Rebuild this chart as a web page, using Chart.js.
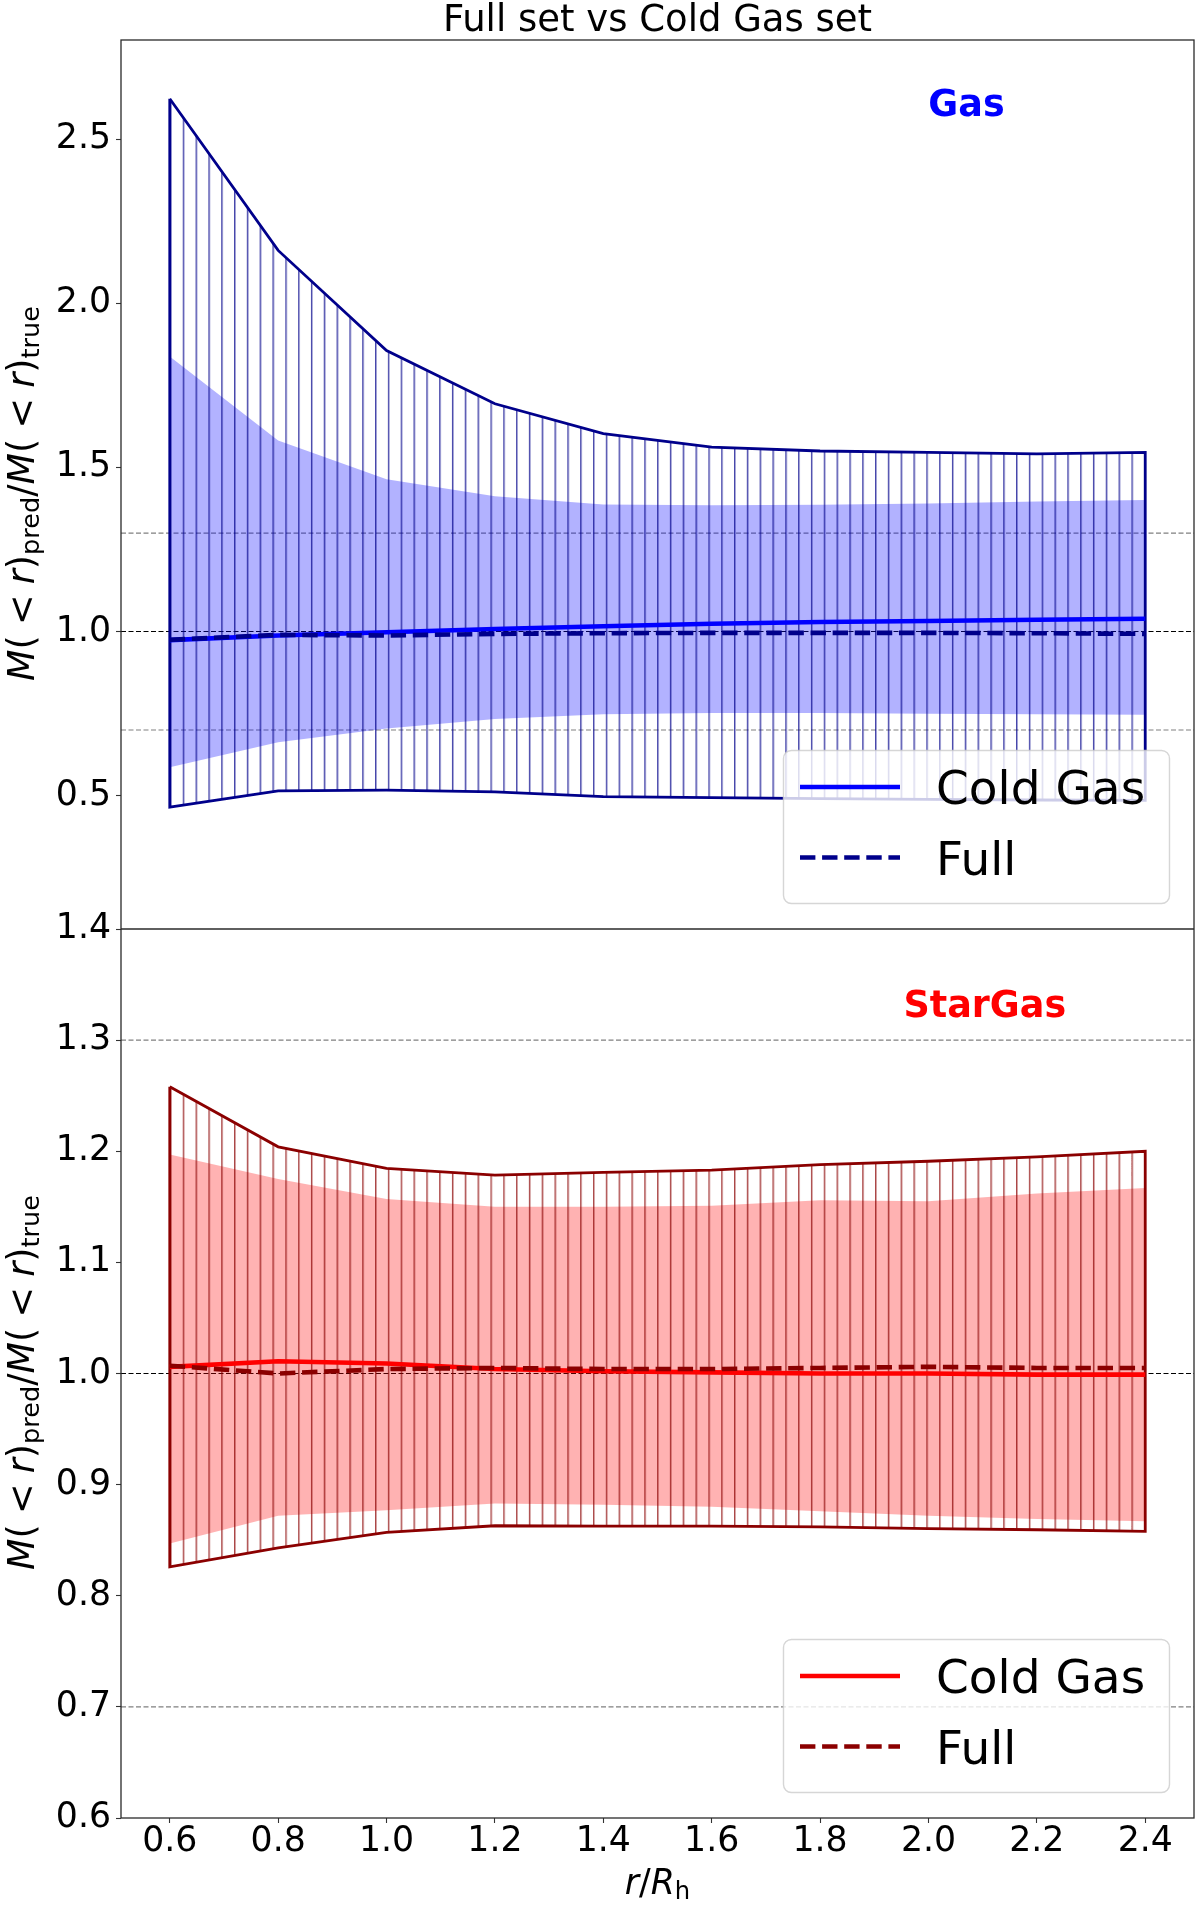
<!DOCTYPE html>
<html>
<head>
<meta charset="utf-8">
<title>Full set vs Cold Gas set</title>
<script src="https://cdn.jsdelivr.net/npm/chart.js@4.4.1/dist/chart.umd.min.js"></script>
<style>
  html, body { margin: 0; padding: 0; background: #fff; }
  #wrap { width: 1200px; height: 1906px; }
</style>
</head>
<body>
<div id="wrap"><canvas id="massChart" width="1200" height="1906"></canvas></div>
<script>
// ---- values ----
const radii = [0.6, 0.8, 1.0, 1.2, 1.4, 1.6, 1.8, 2.0, 2.2, 2.4];
const xTicks = [0.6, 0.8, 1.0, 1.2, 1.4, 1.6, 1.8, 2.0, 2.2, 2.4];
const xRange = [0.51, 2.49];

// Gas panel
const gasFullHi  = [2.623, 2.161, 1.856, 1.694, 1.603, 1.562, 1.550, 1.546, 1.541, 1.546];
const gasFullLo  = [0.465, 0.515, 0.517, 0.512, 0.497, 0.494, 0.491, 0.489, 0.487, 0.486];
const gasColdHi  = [1.838, 1.582, 1.464, 1.412, 1.387, 1.385, 1.386, 1.390, 1.396, 1.401];
const gasColdLo  = [0.587, 0.663, 0.705, 0.734, 0.748, 0.752, 0.752, 0.750, 0.748, 0.747];
const gasColdMed = [0.974, 0.988, 0.998, 1.008, 1.016, 1.024, 1.029, 1.032, 1.036, 1.039];
const gasFullMed = [0.975, 0.990, 0.988, 0.993, 0.995, 0.996, 0.996, 0.996, 0.995, 0.993];
const gasTicks = [0.5, 1.0, 1.5, 2.0, 2.5];
const gasRange = [0.094, 2.802];

// StarGas panel
const starFullHi  = [1.258, 1.204, 1.1845, 1.1785, 1.181, 1.183, 1.188, 1.191, 1.195, 1.200];
const starFullLo  = [0.826, 0.843, 0.857, 0.863, 0.8626, 0.8626, 0.862, 0.8604, 0.8594, 0.858];
const starColdHi  = [1.197, 1.175, 1.157, 1.150, 1.150, 1.151, 1.156, 1.155, 1.162, 1.167];
const starColdLo  = [0.847, 0.872, 0.877, 0.883, 0.882, 0.880, 0.876, 0.872, 0.869, 0.867];
const starColdMed = [1.006, 1.011, 1.009, 1.004, 1.002, 1.001, 1.000, 1.000, 0.999, 0.999];
const starFullMed = [1.007, 1.000, 1.004, 1.005, 1.004, 1.004, 1.005, 1.006, 1.005, 1.005];
const starTicks = [0.6, 0.7, 0.8, 0.9, 1.0, 1.1, 1.2, 1.3, 1.4];
const starRange = [0.6, 1.4];

// horizontal guides (axhline)
const guideGray = [0.7, 1.3];
const guideBlack = [1.0];

// ---- styles ----
const FONT = "'DejaVu Sans', 'Liberation Sans', sans-serif";
const TICK_PX = 34.7;
const LABEL_PX = 36.5;
const NAVY = '#00008b', BLUE = '#0000ff', DARKRED = '#8b0000', RED = '#ff0000';
const HATCH_STEP = 12.82;   // spacing of the '|' hatch in px
const HATCH_SHIFT = -2.7;

const panels = [
  { axis: 'yGas',  tag: 'Gas',     tagColor: BLUE, tagX: 0.788, tagY: 0.070 },
  { axis: 'yStar', tag: 'StarGas', tagColor: RED,  tagX: 0.805, tagY: 0.084 }
];

const LEG = { w: 386, h: 153, inset: 24.5, lift: 25.5, handleX: 16.5, handle: 100, textX: 152.5, rows: [36.5, 107], font: 47 };

const canvas = document.getElementById('massChart');

function hatch(color) {
  const tile = document.createElement('canvas');
  tile.width = 13; tile.height = 13;
  const t = tile.getContext('2d');
  t.fillStyle = color;
  t.fillRect(6, 0, 1.5, 13);
  const p = canvas.getContext('2d').createPattern(tile, 'repeat');
  p.setTransform(new DOMMatrix().translate(HATCH_SHIFT, 0).scale(HATCH_STEP / 13, 1));
  return p;
}

// closed outline: upper edge left->right, lower edge back, then close
function band(hi, lo) {
  const pts = radii.map((r, i) => ({ x: r, y: hi[i] }));
  for (let i = radii.length - 1; i >= 0; i--) pts.push({ x: radii[i], y: lo[i] });
  pts.push(pts[0]);
  return pts;
}
function curve(vals) {
  return radii.map((r, i) => ({ x: r, y: vals[i] }));
}

function panelSets(axis, dark, bright, fullHi, fullLo, coldHi, coldLo, coldMed, fullMed) {
  const rgb = bright === BLUE ? '0,0,255' : '255,0,0';
  const drgb = dark === NAVY ? '0,0,139' : '139,0,0';
  return [
    { label: 'Full', inLegend: true, yAxisID: axis, data: curve(fullMed), order: 0,
      borderColor: dark, borderWidth: 4.6, borderDash: [15.4, 6.7], pointRadius: 0, fill: false },
    { label: 'Cold Gas', inLegend: true, yAxisID: axis, data: curve(coldMed), order: 1,
      borderColor: bright, borderWidth: 4.6, pointRadius: 0, fill: false },
    { label: 'Full range', yAxisID: axis, data: band(fullHi, fullLo), order: 2,
      borderColor: dark, borderWidth: 2.8, borderJoinStyle: 'miter', pointRadius: 0,
      fill: 'shape', backgroundColor: hatch('rgba(' + drgb + ',0.72)') },
    { label: 'Cold Gas range', yAxisID: axis, data: band(coldHi, coldLo), order: 3,
      borderColor: 'rgba(0,0,0,0)', borderWidth: 0, pointRadius: 0,
      fill: 'shape', backgroundColor: 'rgba(' + rgb + ',0.3)' }
  ];
}

// ---- plugins ----
const guidesPlugin = {
  id: 'guides',
  beforeDatasetsDraw(chart) {
    const { ctx, chartArea: a } = chart;
    ctx.save();
    ctx.lineWidth = 1.1;
    ctx.setLineDash([5, 2.5]);
    for (const p of panels) {
      const sc = chart.scales[p.axis];
      [[guideGray, '#808080'], [guideBlack, '#000000']].forEach(([vals, col]) => {
        ctx.strokeStyle = col;
        vals.forEach(v => {
          const y = sc.getPixelForValue(v);
          ctx.beginPath(); ctx.moveTo(a.left, y); ctx.lineTo(a.right, y); ctx.stroke();
        });
      });
    }
    ctx.restore();
  }
};

const framePlugin = {
  id: 'frame',
  afterDatasetsDraw(chart) {
    const { ctx, chartArea: a } = chart;
    ctx.save();
    ctx.strokeStyle = '#2a2a2a';
    ctx.lineWidth = 1.3;
    ctx.strokeRect(a.left, a.top, a.width, a.height);
    const yDiv = chart.scales.yGas.bottom;
    ctx.beginPath(); ctx.moveTo(a.left, yDiv); ctx.lineTo(a.right, yDiv); ctx.stroke();
    ctx.restore();
  }
};

function segFont(s, size) {
  const px = s.sub ? size * 0.7 : size;
  return (s.it ? 'italic ' : '') + px + 'px ' + FONT;
}
function richWidth(ctx, segs, size) {
  let w = 0;
  for (const s of segs) {
    if (s.gap) { w += s.gap * size; continue; }
    ctx.font = segFont(s, size);
    w += ctx.measureText(s.t).width;
  }
  return w;
}
function richDraw(ctx, segs, size, x, y) {
  for (const s of segs) {
    if (s.gap) { x += s.gap * size; continue; }
    ctx.font = segFont(s, size);
    ctx.fillText(s.t, x, y + (s.sub ? size * 0.15 : 0));
    x += ctx.measureText(s.t).width;
  }
}

const yLabelSegs = [
  { t: 'M', it: 1 }, { t: '(' }, { gap: 0.28 }, { t: '<' }, { gap: 0.28 }, { t: 'r', it: 1 }, { t: ')' }, { t: 'pred', sub: 1 },
  { t: '/' },
  { t: 'M', it: 1 }, { t: '(' }, { gap: 0.28 }, { t: '<' }, { gap: 0.28 }, { t: 'r', it: 1 }, { t: ')' }, { t: 'true', sub: 1 }
];
const xLabelSegs = [{ t: 'r', it: 1 }, { t: '/' }, { t: 'R', it: 1 }, { t: 'h', sub: 1 }];

const textPlugin = {
  id: 'texts',
  afterDraw(chart) {
    const { ctx, chartArea: a } = chart;
    ctx.save();
    ctx.fillStyle = '#000';
    ctx.textBaseline = 'alphabetic';
    ctx.textAlign = 'left';
    // y labels, one per panel
    for (const p of panels) {
      const sc = chart.scales[p.axis];
      const cy = (sc.top + sc.bottom) / 2 + 9;
      const w = richWidth(ctx, yLabelSegs, LABEL_PX);
      ctx.save();
      ctx.translate(34, cy);
      ctx.rotate(-Math.PI / 2);
      richDraw(ctx, yLabelSegs, LABEL_PX, -w / 2, 0);
      ctx.restore();
      // panel tag
      ctx.font = 'bold 36.5px ' + FONT;
      ctx.fillStyle = p.tagColor;
      ctx.textAlign = 'center';
      ctx.fillText(p.tag, a.left + p.tagX * a.width, sc.top + p.tagY * (sc.bottom - sc.top) + 0.3645 * 36.5);
      ctx.textAlign = 'left';
      ctx.fillStyle = '#000';
    }
    // x label
    const wx = richWidth(ctx, xLabelSegs, TICK_PX);
    richDraw(ctx, xLabelSegs, TICK_PX, (a.left + a.right) / 2 - wx / 2, 1894);
    ctx.restore();
  }
};

const legendPlugin = {
  id: 'panelLegend',
  afterDraw(chart) {
    const { ctx, chartArea: a } = chart;
    for (const p of panels) {
      const sc = chart.scales[p.axis];
      const right = a.right - LEG.inset;
      const bottom = sc.bottom - LEG.lift;
      const left = right - LEG.w, top = bottom - LEG.h;
      ctx.save();
      ctx.beginPath();
      ctx.roundRect(left, top, LEG.w, LEG.h, 8);
      ctx.fillStyle = 'rgba(255,255,255,0.8)';
      ctx.fill();
      ctx.strokeStyle = 'rgba(204,204,204,0.8)';
      ctx.lineWidth = 1.4;
      ctx.stroke();
      const items = chart.data.datasets.filter(d => d.yAxisID === p.axis && d.inLegend)
        .sort((d1, d2) => d2.order - d1.order);
      items.forEach((d, i) => {
        const y = top + LEG.rows[i];
        ctx.beginPath();
        ctx.setLineDash(d.borderDash || []);
        ctx.lineWidth = d.borderWidth;
        ctx.strokeStyle = d.borderColor;
        ctx.moveTo(left + LEG.handleX, y);
        ctx.lineTo(left + LEG.handleX + LEG.handle, y);
        ctx.stroke();
        ctx.setLineDash([]);
        ctx.fillStyle = '#000';
        ctx.font = LEG.font + 'px ' + FONT;
        ctx.textBaseline = 'alphabetic';
        ctx.fillText(d.label, left + LEG.textX, y + 0.3645 * LEG.font);
      });
      ctx.restore();
    }
  }
};

function yScale(range, ticks) {
  return {
    type: 'linear', position: 'left', stack: 'panels', stackWeight: 1,
    min: range[0], max: range[1],
    afterBuildTicks: s => { s.ticks = ticks.map(v => ({ value: v })); },
    afterFit: s => { s.width = 121; },
    ticks: { font: { size: TICK_PX, lineHeight: 1 }, color: '#000', padding: 5, autoSkip: false,
             callback: v => v.toFixed(1) },
    grid: { drawOnChartArea: false, tickLength: 5, tickColor: '#333', tickWidth: 1.1 },
    border: { display: false }
  };
}

Chart.defaults.font.family = FONT;
Chart.defaults.color = '#000';

new Chart(canvas, {
  type: 'line',
  data: {
    datasets: [
      ...panelSets('yGas', NAVY, BLUE, gasFullHi, gasFullLo, gasColdHi, gasColdLo, gasColdMed, gasFullMed),
      ...panelSets('yStar', DARKRED, RED, starFullHi, starFullLo, starColdHi, starColdLo, starColdMed, starFullMed)
    ]
  },
  options: {
    responsive: false,
    devicePixelRatio: 1,
    animation: false,
    layout: { padding: { top: 0, right: 6, bottom: 0, left: 0 } },
    scales: {
      x: {
        type: 'linear', position: 'bottom', min: xRange[0], max: xRange[1],
        afterBuildTicks: s => { s.ticks = xTicks.map(v => ({ value: v })); },
        afterFit: s => { s.height = 88; },
        ticks: { font: { size: TICK_PX, lineHeight: 1 }, color: '#000', padding: 2, maxRotation: 0,
                 autoSkip: false, callback: v => v.toFixed(1) },
        grid: { drawOnChartArea: false, tickLength: 5, tickColor: '#333', tickWidth: 1.1 },
        border: { display: false }
      },
      // lower panel listed first: Chart.js stacks left boxes bottom-up
      yStar: yScale(starRange, starTicks),
      yGas: yScale(gasRange, gasTicks)
    },
    plugins: {
      legend: { display: false },
      tooltip: { enabled: false },
      title: {
        display: true, text: 'Full set vs Cold Gas set', fullSize: false, color: '#000',
        font: { size: 37, weight: 'normal', lineHeight: 1 }, padding: { top: 3, bottom: 0 }
      }
    }
  },
  plugins: [guidesPlugin, framePlugin, textPlugin, legendPlugin]
});
</script>
</body>
</html>
